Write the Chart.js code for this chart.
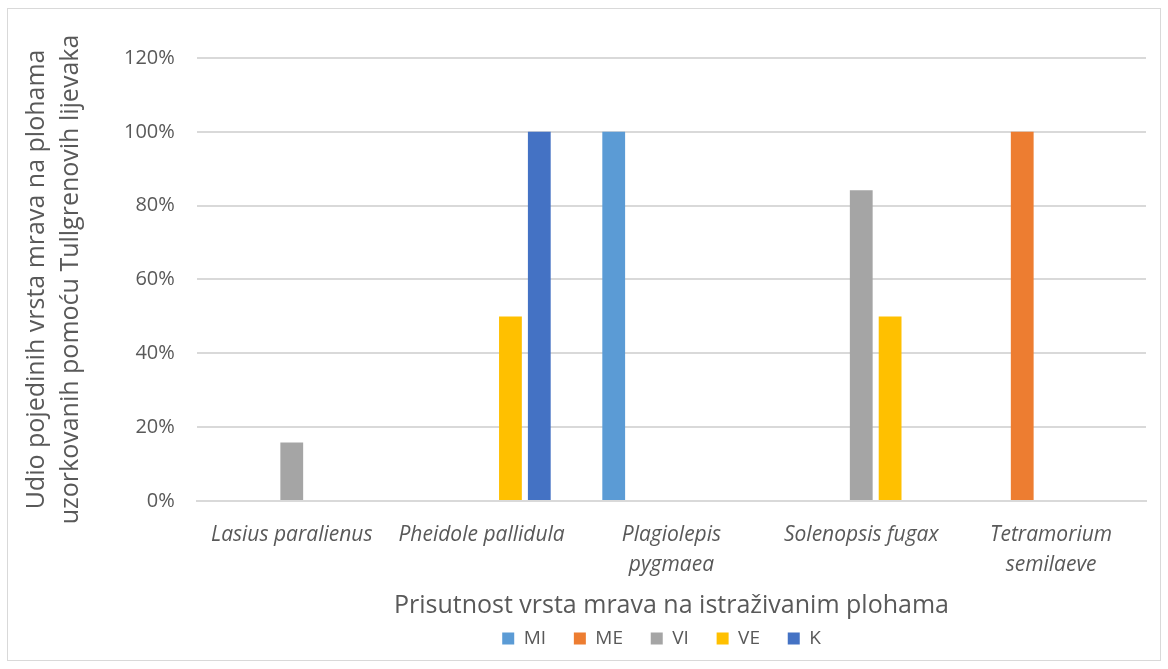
<!DOCTYPE html>
<html>
<head>
<meta charset="utf-8">
<script src="https://cdn.jsdelivr.net/npm/chart.js@4"></script>
<style>
    body { margin: 0; background: #fff; }
    #box {
        position: absolute; left: 7px; top: 8px;
        width: 1152px; height: 651px;
        border: 1px solid #d9d9d9; background: #fff;
    }
</style>
</head>
<body>
<div id="box"><canvas id="antChart"></canvas></div>
<script>
const categories = [
    "Lasius paralienus",
    "Pheidole pallidula",
    ["Plagiolepis", "pygmaea"],
    "Solenopsis fugax",
    ["Tetramorium", "semilaeve"]
];
const miValues = [0, 0, 1, 0, 0];
const meValues = [0, 0, 0, 0, 1];
const viValues = [0.158, 0, 0, 0.842, 0];
const veValues = [0, 0.5, 0, 0.5, 0];
const kValues = [0, 1, 0, 0, 0];
const yTicks = [0, 0.2, 0.4, 0.6, 0.8, 1, 1.2];

const textColor = "#595959";
const gridColor = "#d9d9d9";
const fontFamily = "'Open Sans', 'Noto Sans', sans-serif";

function series(label, data, color) {
    return {
        label, data,
        backgroundColor: color,
        borderWidth: 0,
        categoryPercentage: 0.76,
        barPercentage: 0.79
    };
}

// legend items sit further apart than the vertical padding allows,
// so pad the labels with a few non-breaking spaces
function legendLabels(chart) {
    const items = Chart.defaults.plugins.legend.labels.generateLabels(chart);
    return items.map(item => {
        item.text += "\u00a0\u00a0\u00a0\u00a0";
        return item;
    });
}

const ctx = document.getElementById("antChart").getContext("2d");
new Chart(ctx, {
    type: "bar",
    data: {
        labels: categories,
        datasets: [
            series("MI", miValues, "#5b9bd5"),
            series("ME", meValues, "#ed7d31"),
            series("VI", viValues, "#a5a5a5"),
            series("VE", veValues, "#ffc000"),
            series("K", kValues, "#4472c4")
        ]
    },
    options: {
        responsive: true,
        maintainAspectRatio: false,
        animation: false,
        layout: { padding: { left: 12, right: 14, top: 49, bottom: 2 } },
        plugins: {
            tooltip: { enabled: false },
            legend: {
                position: "bottom",
                fullSize: false,
                labels: {
                    boxWidth: 12, boxHeight: 12, padding: 8,
                    color: textColor,
                    font: { family: fontFamily, size: 19 },
                    generateLabels: legendLabels
                }
            }
        },
        scales: {
            x: {
                grid: { display: false },
                border: { color: gridColor, width: 2 },
                ticks: {
                    color: textColor, padding: 11, maxRotation: 0,
                    font: { family: fontFamily, size: 21, style: "italic", lineHeight: 1.43 }
                },
                title: {
                    display: true,
                    text: "Prisutnost vrsta mrava na istraživanim plohama",
                    color: textColor,
                    padding: { top: 0, bottom: 0 },
                    font: { family: fontFamily, size: 25 }
                }
            },
            y: {
                min: 0, max: 1.2,
                afterBuildTicks: axis => { axis.ticks = yTicks.map(v => ({ value: v })); },
                grid: { color: gridColor, lineWidth: 2, drawTicks: false },
                border: { display: false },
                ticks: {
                    color: textColor, padding: 22,
                    font: { family: fontFamily, size: 20 },
                    callback: v => Math.round(v * 100) + "%"
                },
                title: {
                    display: true,
                    text: ["Udio pojedinih vrsta mrava na plohama", "uzorkovanih pomoću Tullgrenovih lijevaka"],
                    color: textColor,
                    padding: { top: 0, bottom: 14 },
                    font: { family: fontFamily, size: 25, lineHeight: 1.36 }
                }
            }
        }
    }
});
</script>
</body>
</html>
